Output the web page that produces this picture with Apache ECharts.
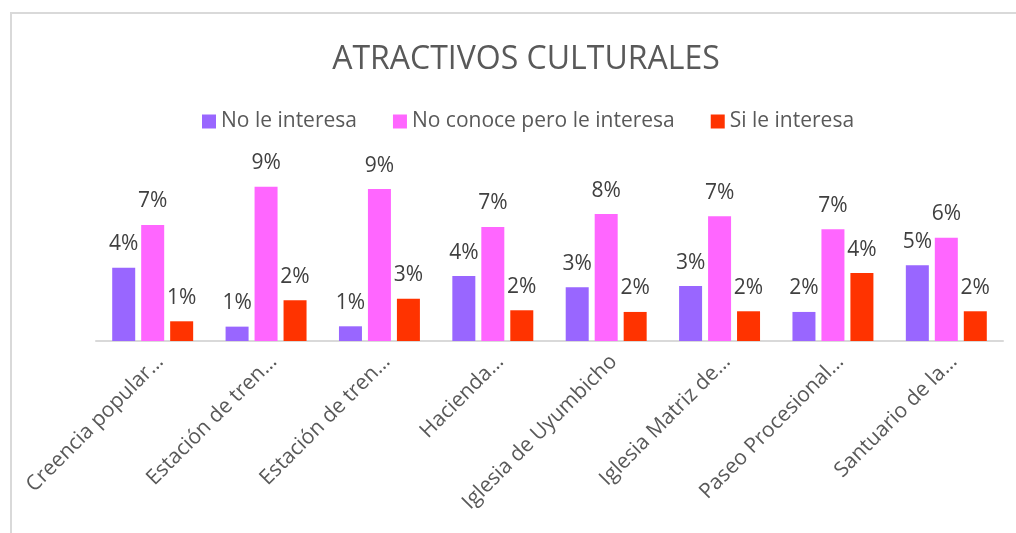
<!DOCTYPE html>
<html>
<head>
<meta charset="utf-8">
<script src="https://cdn.jsdelivr.net/npm/echarts@6/dist/echarts.min.js"></script>
<style>
  html, body { margin: 0; padding: 0; background: #fff; }
  #chart { width: 1016px; height: 533px; }
</style>
</head>
<body>
<div id="chart"></div>
<script>
const categories = [
  'Creencia popular…',
  'Estación de tren…',
  'Estación de tren…',
  'Hacienda…',
  'Iglesia de Uyumbicho',
  'Iglesia Matriz de…',
  'Paseo Procesional…',
  'Santuario de la…'
];
const seriesNames = ['No le interesa', 'No conoce pero le interesa', 'Si le interesa'];
// percentages
const noLeInteresa = [4.39, 0.86, 0.88, 3.89, 3.22, 3.29, 1.74, 4.53];
const noConocePeroLeInteresa = [6.95, 9.24, 9.10, 6.83, 7.60, 7.47, 6.69, 6.19];
const siLeInteresa = [1.18, 2.44, 2.53, 1.84, 1.74, 1.78, 4.07, 1.78];
const colors = ['#9966FF', '#FF66FF', '#FF3300'];

const chart = echarts.init(document.getElementById('chart'));
const font = 'Open Sans';

const makeSeries = (name, data, color) => ({
  name: name,
  type: 'bar',
  data: data,
  barWidth: 23,
  barGap: '26%',
  itemStyle: { color: color },
  label: {
    show: true,
    position: 'top',
    distance: 13,
    color: '#404040',
    fontFamily: font,
    fontSize: 21,
    formatter: (p) => Math.round(p.value) + '%'
  }
});

const option = {
  animation: false,
  title: {
    text: 'ATRACTIVOS CULTURALES',
    left: 521,
    textAlign: 'center',
    top: 39,
    textStyle: { fontFamily: font, fontSize: 32, fontWeight: 'normal', color: '#595959' }
  },
  legend: {
    data: seriesNames,
    left: 197,
    top: 106,
    icon: 'rect',
    itemWidth: 14,
    itemHeight: 14,
    itemGap: 36,
    textStyle: { fontFamily: font, fontSize: 21, color: '#595959' }
  },
  grid: { left: 96, right: 13, top: 174, bottom: 192 },
  xAxis: {
    type: 'category',
    data: categories,
    axisLine: { lineStyle: { color: '#d9d9d9', width: 2 } },
    axisTick: { show: false },
    axisLabel: {
      rotate: 45,
      margin: 10,
      interval: 0,
      verticalAlign: 'top',
      fontFamily: font,
      fontSize: 21,
      color: '#595959'
    }
  },
  yAxis: {
    type: 'value',
    min: 0,
    max: 10,
    show: false
  },
  series: [
    makeSeries(seriesNames[0], noLeInteresa, colors[0]),
    makeSeries(seriesNames[1], noConocePeroLeInteresa, colors[1]),
    makeSeries(seriesNames[2], siLeInteresa, colors[2])
  ],
  graphic: [{
    type: 'rect',
    silent: true,
    shape: { x: 11, y: 13, width: 1020, height: 540 },
    style: { fill: 'none', stroke: '#d9d9d9', lineWidth: 2 }
  }]
};

chart.setOption(option);
window.addEventListener('resize', () => chart.resize());
</script>
</body>
</html>
